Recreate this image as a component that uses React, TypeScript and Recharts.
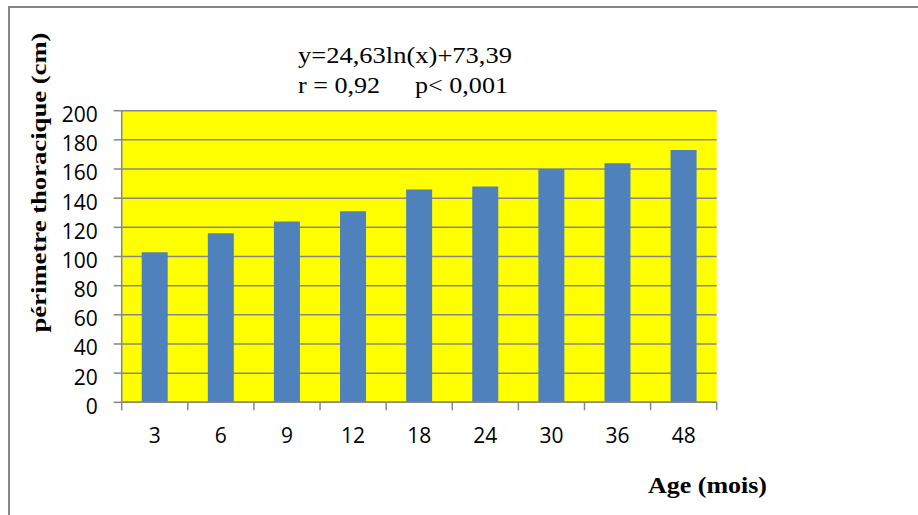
import { Bar, BarChart, CartesianGrid, XAxis, YAxis } from 'recharts'

// Age categories (mois) and mean thoracic perimeter (cm)
const AGES = ['3', '6', '9', '12', '18', '24', '30', '36', '48']
const PERIMETRE = [103, 116, 124, 131, 146, 148, 160, 164, 173]
const Y_TICKS = [0, 20, 40, 60, 80, 100, 120, 140, 160, 180, 200]
const BOUNDARY_TICKS = [0, 1, 2, 3, 4, 5, 6, 7, 8, 9]

const EQUATION = 'y=24,63ln(x)+73,39'
const STAT_R = 'r = 0,92'
const STAT_P = 'p< 0,001'
const X_TITLE = 'Age (mois)'
const Y_TITLE = 'périmetre thoracique (cm)'

const GRAY = '#878787'
const TICK_FONT = { fontFamily: '"Open Sans", sans-serif', fontSize: 21, fill: '#000' }
const SERIF = '"Liberation Serif", "Times New Roman", serif'

const data = AGES.map((age, i) => ({ age, idx: i, value: PERIMETRE[i] }))

// boundary axis only shows its tick marks, no labels
const NoLabel = () => <g />

export default function App() {
  return (
    <div
      style={{
        position: 'absolute',
        left: 0,
        top: 0,
        width: 918,
        height: 515,
        background: '#fff',
        overflow: 'hidden',
      }}
    >
      <div style={{ position: 'absolute', left: 8, top: 6, width: 910, height: 2, background: GRAY }} />
      <div style={{ position: 'absolute', left: 8, top: 6, width: 2, height: 509, background: GRAY }} />

      <div style={{ position: 'absolute', left: 0, top: 0 }}>
        <BarChart
          data={data}
          height={515}
          margin={{ top: 110.7, right: 201.3, left: 0, bottom: 51.7 }}
          width={918}
        >
          <CartesianGrid
            fill="#FFFF00"
            fillOpacity={1}
            stroke={GRAY}
            strokeWidth={1.5}
            vertical={false}
            xAxisId="cat"
          />
          <XAxis
            axisLine={{ stroke: GRAY, strokeWidth: 1.5 }}
            dataKey="idx"
            domain={[0, AGES.length]}
            height={1}
            interval={0}
            tick={NoLabel}
            tickLine={{ stroke: GRAY, strokeWidth: 1.5 }}
            tickSize={8}
            ticks={BOUNDARY_TICKS}
            type="number"
            xAxisId="b"
          />
          <XAxis
            axisLine={false}
            dataKey="age"
            height={60}
            interval={0}
            tick={TICK_FONT}
            tickLine={false}
            tickMargin={25}
            tickSize={0}
            xAxisId="cat"
          />
          <YAxis
            axisLine={{ stroke: GRAY, strokeWidth: 1.5 }}
            domain={[0, 200]}
            interval={0}
            tick={{ ...TICK_FONT, dy: 4 }}
            tickLine={{ stroke: GRAY, strokeWidth: 1.5 }}
            tickMargin={16}
            tickSize={8}
            ticks={Y_TICKS}
            width={121.7}
          />
          <Bar barSize={26} dataKey="value" fill="#4F81BD" isAnimationActive={false} xAxisId="cat" />
        </BarChart>
      </div>

      <svg
        height={515}
        style={{ position: 'absolute', left: 0, top: 0, pointerEvents: 'none' }}
        width={918}
      >
        <text fill="#000" fontFamily={SERIF} fontSize={24} lengthAdjust="spacingAndGlyphs" textLength={214} x={298} y={63}>
          {EQUATION}
        </text>
        <text fill="#000" fontFamily={SERIF} fontSize={24} lengthAdjust="spacingAndGlyphs" textLength={82} x={298} y={93}>
          {STAT_R}
        </text>
        <text fill="#000" fontFamily={SERIF} fontSize={24} lengthAdjust="spacingAndGlyphs" textLength={93} x={415} y={93}>
          {STAT_P}
        </text>
        <text
          fill="#000"
          fontFamily={SERIF}
          fontSize={24}
          fontWeight="bold"
          lengthAdjust="spacingAndGlyphs"
          textLength={119}
          x={648}
          y={493}
        >
          {X_TITLE}
        </text>
        <text
          fill="#000"
          fontFamily={SERIF}
          fontSize={21}
          fontWeight="bold"
          lengthAdjust="spacingAndGlyphs"
          textAnchor="middle"
          textLength={300}
          transform="translate(46,182.5) rotate(-90)"
          x={0}
          y={0}
        >
          {Y_TITLE}
        </text>
      </svg>
    </div>
  )
}
